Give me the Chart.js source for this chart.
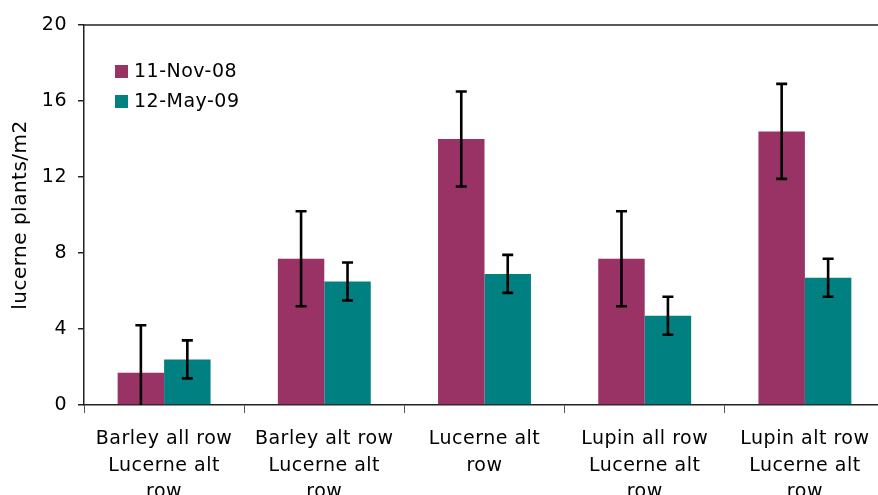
<!DOCTYPE html>
<html>
<head>
<meta charset="utf-8">
<script src="https://cdn.jsdelivr.net/npm/chart.js@4.4.1/dist/chart.umd.min.js"></script>
<style>
  html, body { margin: 0; padding: 0; background: #fff; overflow: hidden; }
  #wrap { width: 892px; height: 520px; }
</style>
</head>
<body>
<div id="wrap"><canvas id="chart" width="892" height="520"></canvas></div>
<script>
const categories = [
    ['Barley all row', 'Lucerne alt', 'row'],
    ['Barley alt row', 'Lucerne alt', 'row'],
    ['Lucerne alt', 'row'],
    ['Lupin all row', 'Lucerne alt', 'row'],
    ['Lupin alt row', 'Lucerne alt', 'row']
];
const seriesNames = ['11-Nov-08', '12-May-09'];
const nov08 = [1.7, 7.7, 14.0, 7.7, 14.4];
const nov08Err = [2.5, 2.5, 2.5, 2.5, 2.5];
const may09 = [2.4, 6.5, 6.9, 4.7, 6.7];
const may09Err = [1.0, 1.0, 1.0, 1.0, 1.0];
const yTicks = [0, 4, 8, 12, 16, 20];

const FONT = 'DejaVu Sans';

// un peu d'espacement entre les lettres pour tout le texte
const spacing = {
    id: 'spacing',
    beforeDraw(chart) { chart.ctx.letterSpacing = '0.5px'; }
};

// barres d'erreur dessinées à partir des échelles
const errorBars = {
    id: 'errorBars',
    afterDatasetsDraw(chart) {
        const ctx = chart.ctx;
        const y = chart.scales.y;
        ctx.save();
        ctx.strokeStyle = '#000';
        ctx.lineWidth = 2.6;
        chart.data.datasets.forEach((ds, di) => {
            const meta = chart.getDatasetMeta(di);
            meta.data.forEach((bar, i) => {
                const v = ds.data[i], e = ds.errors[i];
                const top = y.getPixelForValue(v + e);
                const low = Math.max(0, v - e);
                const bot = y.getPixelForValue(low);
                ctx.beginPath();
                ctx.moveTo(bar.x, top); ctx.lineTo(bar.x, bot);
                ctx.moveTo(bar.x - 5.5, top); ctx.lineTo(bar.x + 5.5, top);
                if (low > 0) { ctx.moveTo(bar.x - 5.5, bot); ctx.lineTo(bar.x + 5.5, bot); }
                ctx.stroke();
            });
        });
        ctx.restore();
    }
};

// cadre du haut + légende dans la zone du graphique
const frameAndLegend = {
    id: 'frameAndLegend',
    afterDraw(chart) {
        const ctx = chart.ctx;
        const a = chart.chartArea;
        ctx.save();
        ctx.strokeStyle = '#222';
        ctx.lineWidth = 1.5;
        ctx.beginPath();
        ctx.moveTo(a.left, a.top); ctx.lineTo(a.right + 5, a.top);
        ctx.stroke();

        ctx.font = '19px ' + FONT;
        ctx.textBaseline = 'middle';
        chart.data.datasets.forEach((ds, i) => {
            const yy = 72 + i * 30;
            ctx.fillStyle = ds.backgroundColor;
            ctx.fillRect(115, yy - 7, 13, 13);
            ctx.fillStyle = '#000';
            ctx.fillText(ds.label, 134, yy);
        });
        ctx.restore();
    }
};

const ctx = document.getElementById('chart').getContext('2d');
new Chart(ctx, {
    type: 'bar',
    data: {
        labels: categories,
        datasets: [
            { label: seriesNames[0], data: nov08, errors: nov08Err, backgroundColor: '#993366' },
            { label: seriesNames[1], data: may09, errors: may09Err, backgroundColor: '#008080' }
        ]
    },
    options: {
        responsive: false,
        animation: false,
        layout: { padding: { top: 25, right: 7, left: 9, bottom: 0 } },
        datasets: { bar: { barPercentage: 1, categoryPercentage: 0.58 } },
        plugins: { legend: { display: false }, tooltip: { enabled: false } },
        scales: {
            x: {
                grid: { drawOnChartArea: false, offset: true, tickLength: 8, color: '#555', lineWidth: 1 },
                border: { color: '#222', width: 1.5 },
                ticks: { color: '#000', font: { family: FONT, size: 19, lineHeight: 1.4 }, maxRotation: 0, padding: 13 },
                afterFit: s => { s.height = 115; }
            },
            y: {
                min: 0, max: 20,
                afterBuildTicks: s => { s.ticks = yTicks.map(v => ({ value: v })); },
                grid: { drawOnChartArea: false, tickLength: 6, color: '#222', lineWidth: 1.5 },
                border: { color: '#222', width: 1.5 },
                ticks: { color: '#000', font: { family: FONT, size: 19 }, padding: 11 },
                title: { display: true, text: 'lucerne plants/m2', color: '#000', font: { family: FONT, size: 20 }, padding: 0 },
                afterFit: s => { s.width = 75; }
            }
        }
    },
    plugins: [spacing, errorBars, frameAndLegend]
});
</script>
</body>
</html>
